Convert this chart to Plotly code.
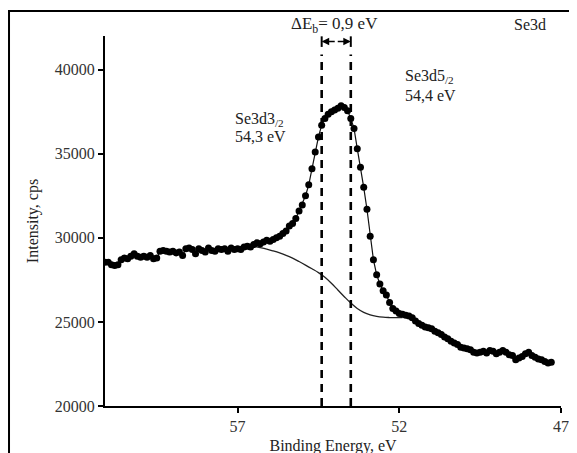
import plotly.graph_objects as go

# Binding energy grid (eV) and measured intensity (cps)
binding_energy = [
    61.1, 61.0, 60.9, 60.8, 60.7, 60.6, 60.5, 60.4, 60.3, 60.2,
    60.1, 60.0, 59.9, 59.8, 59.7, 59.6, 59.5, 59.4, 59.3, 59.2,
    59.1, 59.0, 58.9, 58.8, 58.7, 58.6, 58.5, 58.4, 58.3, 58.2,
    58.1, 58.0, 57.9, 57.8, 57.7, 57.6, 57.5, 57.4, 57.3, 57.2,
    57.1, 57.0, 56.9, 56.8, 56.7, 56.6, 56.5, 56.4, 56.3, 56.2,
    56.1, 56.0, 55.9, 55.8, 55.7, 55.6, 55.5, 55.4, 55.3, 55.2,
    55.1, 55.0, 54.9, 54.8, 54.7, 54.6, 54.5, 54.4, 54.3, 54.2,
    54.1, 54.0, 53.9, 53.8, 53.7, 53.6, 53.5, 53.4, 53.3, 53.2,
    53.1, 53.0, 52.9, 52.8, 52.7, 52.6, 52.5, 52.4, 52.3, 52.2,
    52.1, 52.0, 51.9, 51.8, 51.7, 51.6, 51.5, 51.4, 51.3, 51.2,
    51.1, 51.0, 50.9, 50.8, 50.7, 50.6, 50.5, 50.4, 50.3, 50.2,
    50.1, 50.0, 49.9, 49.8, 49.7, 49.6, 49.5, 49.4, 49.3, 49.2,
    49.1, 49.0, 48.9, 48.8, 48.7, 48.6, 48.5, 48.4, 48.3, 48.2,
    48.1, 48.0, 47.9, 47.8, 47.7, 47.6, 47.5, 47.4, 47.3,
]
intensity = [
    28550, 28550, 28400, 28350, 28400, 28700, 28800, 28750, 28900, 29050,
    28900, 28850, 28900, 28850, 28950, 28750, 28800, 29200, 29250, 29200,
    29150, 29200, 29100, 29150, 28950, 29350, 29400, 29300, 29050, 29350,
    29250, 29150, 29400, 29250, 29200, 29350, 29300, 29350, 29200, 29400,
    29300, 29350, 29300, 29450, 29500, 29450, 29600, 29700, 29650, 29750,
    29850, 29800, 29900, 30000, 30100, 30250, 30400, 30700, 30850, 31150,
    31600, 31950, 32500, 33150, 34100, 35100, 36000, 36700, 37100, 37350,
    37500, 37600, 37700, 37850, 37750, 37550, 37100, 36500, 35300, 34200,
    33000, 31700, 30100, 28700, 27800, 27250, 26850, 26600, 26150, 25800,
    25650, 25500, 25450, 25400, 25350, 25250, 25050, 24900, 24800, 24700,
    24650, 24600, 24450, 24350, 24250, 24100, 24000, 23850, 23750, 23650,
    23500, 23450, 23400, 23350, 23200, 23150, 23200, 23250, 23150, 23300,
    23250, 23100, 23200, 23300, 23200, 23050, 23000, 22750, 22850, 22950,
    23100, 23200, 23000, 22900, 22800, 22750, 22650, 22550, 22600,
]

# Shirley-type background under the peak
bg_energy = [56.5, 56.3, 56.1, 55.9, 55.7, 55.5, 55.3, 55.1, 54.9, 54.7,
             54.5, 54.3, 54.1, 53.9, 53.7, 53.5, 53.3, 53.1, 52.9, 52.7,
             52.5, 52.3, 52.1, 51.9]
bg_intensity = [29500, 29420, 29330, 29220, 29100, 28960, 28790, 28590, 28380, 28160,
                27930, 27650, 27300, 26900, 26500, 26120, 25800, 25570, 25420, 25330,
                25280, 25260, 25250, 25250]

# Peak positions marked by dashed lines
peak_lines = [54.4, 53.5]

x_ticks = [57, 52, 47]
y_ticks = [20000, 25000, 30000, 35000, 40000]

FONT = "Liberation Serif"
fig = go.Figure()

fig.add_trace(go.Scatter(
    x=bg_energy, y=bg_intensity, mode="lines",
    line=dict(color="#222222", width=1.3, shape="spline"),
    hoverinfo="skip", showlegend=False))

fig.add_trace(go.Scatter(
    x=binding_energy, y=intensity, mode="lines+markers",
    line=dict(color="#111111", width=1.2),
    marker=dict(color="black", size=7, symbol="circle"),
    showlegend=False))

for pe in peak_lines:
    fig.add_shape(type="line", xref="x", yref="y", x0=pe, x1=pe, y0=20000, y1=40900,
                  line=dict(color="black", width=2.6, dash="8px,6px"))
    fig.add_shape(type="line", xref="x", yref="y", x0=pe, x1=pe, y0=41350, y1=41980,
                  line=dict(color="black", width=2))

mid = (peak_lines[0] + peak_lines[1]) / 2
for end in peak_lines:
    fig.add_annotation(x=end, y=41670, ax=mid, ay=41670, xref="x", yref="y",
                       axref="x", ayref="y", text="", showarrow=True,
                       arrowhead=2, arrowsize=1, arrowwidth=1.5, arrowcolor="black",
                       standoff=0, startstandoff=0)

txt = dict(family=FONT, size=16, color="#222222")
fig.add_annotation(x=0.504, y=1.03, xref="paper", yref="paper", text="ΔE<sub>b</sub>= 0,9 eV",
                   showarrow=False, font=dict(family=FONT, size=17, color="#222222"),
                   xanchor="center", yanchor="middle")
fig.add_annotation(x=0.971, y=1.03, xref="paper", yref="paper", text="Se3d",
                   showarrow=False, font=txt, xanchor="right", yanchor="middle")
fig.add_annotation(x=57.15, y=37050, xref="x", yref="y", text="Se3d3<sub>/2</sub>",
                   showarrow=False, font=txt, xanchor="left", yanchor="middle")
fig.add_annotation(x=57.15, y=36000, xref="x", yref="y", text="54,3 eV",
                   showarrow=False, font=txt, xanchor="left", yanchor="middle")
fig.add_annotation(x=51.9, y=39600, xref="x", yref="y", text="Se3d5<sub>/2</sub>",
                   showarrow=False, font=txt, xanchor="left", yanchor="middle")
fig.add_annotation(x=51.9, y=38480, xref="x", yref="y", text="54,4 eV",
                   showarrow=False, font=txt, xanchor="left", yanchor="middle")

# outer frame
fig.add_shape(type="rect", xref="paper", yref="paper", x0=-0.2105, x1=1.1,
              y0=-0.25, y1=1.0676, line=dict(color="black", width=2), layer="below")

fig.update_layout(
    width=577, height=453,
    margin=dict(l=97, r=24, t=28, b=55, autoexpand=False),
    paper_bgcolor="white", plot_bgcolor="white",
    font=dict(family=FONT, size=16, color="#222222"),
    xaxis=dict(range=[61.1, 47], tickvals=x_ticks, ticktext=[str(v) for v in x_ticks],
               automargin=False,
               showgrid=False, zeroline=False, showline=True, linecolor="black",
               linewidth=2, ticks="outside", ticklen=5, tickwidth=2, tickcolor="black",
               tickfont=dict(family=FONT, size=16, color="#333333"),
               title=dict(text="Binding Energy, eV", standoff=6,
                          font=dict(family=FONT, size=16, color="#222222"))),
    yaxis=dict(range=[20000, 42000], tickvals=y_ticks, ticktext=[str(v) for v in y_ticks],
               automargin=False,
               showgrid=False, zeroline=False, showline=True, linecolor="black",
               linewidth=2, ticks="outside", ticklen=5, tickwidth=2, tickcolor="black",
               tickfont=dict(family=FONT, size=16, color="#333333"),
               title=dict(text="Intensity, cps", standoff=12,
                          font=dict(family=FONT, size=16, color="#222222"))),
)

fig.write_html("out.html")
